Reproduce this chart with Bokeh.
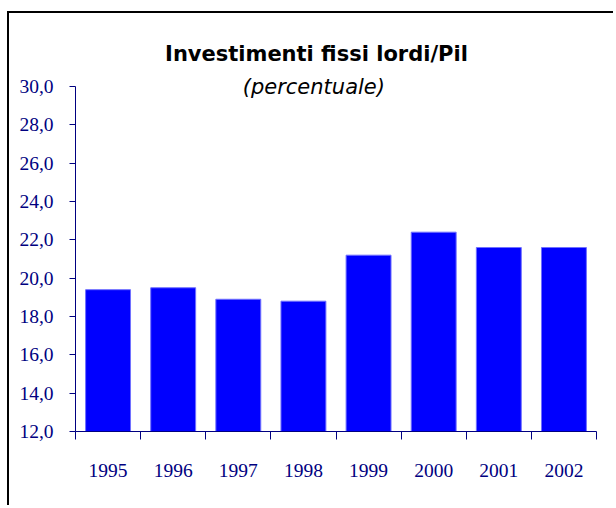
from bokeh.plotting import figure
from bokeh.models import Range1d, FixedTicker, Label, ColumnDataSource
from bokeh.embed import file_html
from bokeh.resources import INLINE

# ---- data ----
years = ["1995", "1996", "1997", "1998", "1999", "2000", "2001", "2002"]
values = [19.4, 19.5, 18.9, 18.8, 21.2, 22.4, 21.6, 21.6]
y_ticks = [12, 14, 16, 18, 20, 22, 24, 26, 28, 30]
y_tick_labels = ["12,0", "14,0", "16,0", "18,0", "20,0", "22,0", "24,0", "26,0", "28,0", "30,0"]
title_text = "Investimenti fissi lordi/Pil"
subtitle_text = "(percentuale)"

NAVY = "#000080"

x_pos = [i + 0.5 for i in range(len(years))]
src = ColumnDataSource(dict(x=x_pos, top=values, year=years))

p = figure(width=606, height=494, output_backend="svg", toolbar_location=None,
           x_range=Range1d(0, len(years)), y_range=Range1d(12, 33.81))
p.styles = {"border-left": "2px solid black", "border-top": "2px solid black",
            "margin-left": "7px", "margin-top": "11px"}
p.min_border_left = 66
p.min_border_right = 19
p.min_border_top = 0
p.min_border_bottom = 76
p.outline_line_color = None
p.xgrid.visible = False
p.ygrid.visible = False
p.background_fill_color = "white"
p.border_fill_color = "white"

p.vbar(x="x", top="top", bottom=12, width=0.69, source=src,
       fill_color="#0000FF", line_color="#7070FF", line_width=1)

# y axis
ya = p.yaxis[0]
ya.bounds = (12, 30)
ya.ticker = FixedTicker(ticks=y_ticks, minor_ticks=[])
ya.major_label_overrides = {t: l for t, l in zip(y_ticks, y_tick_labels)}
ya.axis_line_color = NAVY
ya.major_tick_line_color = NAVY
ya.major_tick_out = 6
ya.major_tick_in = 0
ya.minor_tick_line_color = None
ya.major_label_standoff = 16
ya.major_label_text_font = "Liberation Serif"
ya.major_label_text_font_size = "19.5px"
ya.major_label_text_color = NAVY

# x axis: labels at centers, tick marks at category boundaries
xa = p.xaxis[0]
xa.ticker = FixedTicker(ticks=x_pos, minor_ticks=list(range(len(years) + 1)))
xa.major_label_overrides = {x: y for x, y in zip(x_pos, years)}
xa.axis_line_color = NAVY
xa.major_tick_line_color = None
xa.major_tick_out = 0
xa.major_tick_in = 0
xa.minor_tick_line_color = NAVY
xa.minor_tick_out = 8
xa.minor_tick_in = 0
xa.major_label_standoff = 24
xa.major_label_text_font = "Liberation Serif"
xa.major_label_text_font_size = "19.5px"
xa.major_label_text_color = NAVY

# titles (inside the frame, above the axis bounds)
p.add_layout(Label(x=3.70, y=31.71, text=title_text, text_align="center",
                   text_baseline="alphabetic", text_font="DejaVu Sans",
                   text_font_style="bold", text_font_size="21px", text_color="black"))
p.add_layout(Label(x=3.66, y=29.96, text=subtitle_text, text_align="center",
                   text_baseline="alphabetic", text_font="DejaVu Sans",
                   text_font_style="italic", text_font_size="21px", text_color="black"))

open("out.html", "w").write(file_html(p, INLINE))
